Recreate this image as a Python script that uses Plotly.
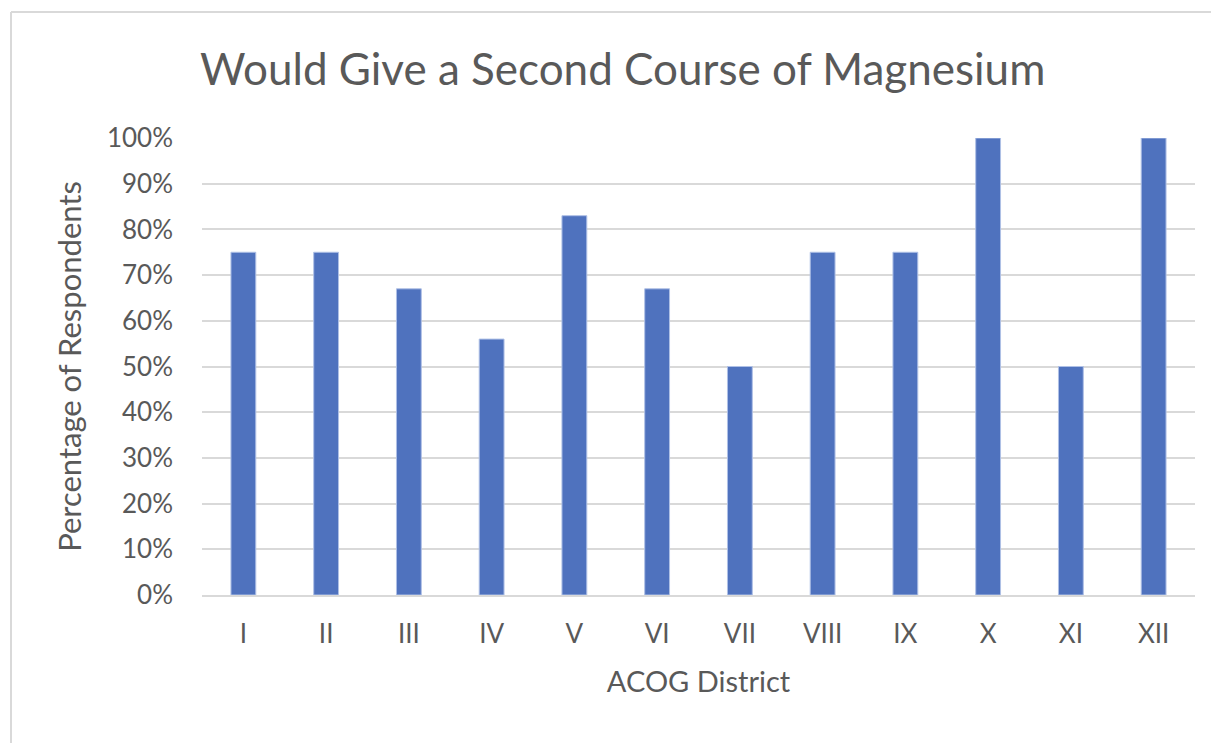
import plotly.graph_objects as go

districts = ["I", "II", "III", "IV", "V", "VI", "VII", "VIII", "IX", "X", "XI", "XII"]
pct_would_give = [0.75, 0.75, 0.67, 0.56, 0.83, 0.67, 0.50, 0.75, 0.75, 1.00, 0.50, 1.00]
y_tick_vals = [0, 0.1, 0.2, 0.3, 0.4, 0.5, 0.6, 0.7, 0.8, 0.9, 1.0]
y_tick_text = ["0%", "10%", "20%", "30%", "40%", "50%", "60%", "70%", "80%", "90%", "100%"]

# page has an 8px body margin; work in reference-pixel coordinates and shift
OFF = 8
W, H = 1219 - OFF, 743 - OFF
L, T = 202 - OFF, 138 - OFF
R = W - (1195 - OFF)
B = H - (595 - OFF)
pw, ph = W - L - R, H - T - B

def px(x):
    return (x - OFF - L) / pw

def py(y):
    return (H - B - (y - OFF)) / ph

FONT = "Lato"
TXT = "#595959"

fig = go.Figure(go.Bar(
    x=districts, y=pct_would_give,
    marker=dict(color="#4F72BE", line=dict(color="#AFC0E6", width=1)),
    width=0.30,
))

fig.update_layout(
    width=W, height=H,
    margin=dict(l=L, r=R, t=T, b=B),
    paper_bgcolor="white", plot_bgcolor="white",
    showlegend=False,
    font=dict(family=FONT, color=TXT),
)
fig.update_yaxes(
    range=[0, 1], tickvals=y_tick_vals, ticktext=y_tick_text,
    showgrid=True, gridcolor="#D9D9D9", gridwidth=1.5,
    zeroline=False, showline=False,
    tickfont=dict(size=26, color=TXT, family=FONT),
    ticklabelstandoff=28,
    title=dict(text="Percentage of Respondents", font=dict(size=31, color=TXT, family=FONT), standoff=16),
)
fig.update_xaxes(
    showline=True, linecolor="#D9D9D9", linewidth=1.5,
    tickfont=dict(size=26, color=TXT, family=FONT),
    ticklabelstandoff=15,
    title=dict(text="ACOG District", font=dict(size=29, color=TXT, family=FONT), standoff=24),
)

fig.add_annotation(
    text="Would Give a Second Course of Magnesium",
    xref="paper", yref="paper", x=px(622), y=py(68),
    xanchor="center", yanchor="middle", showarrow=False,
    font=dict(size=44, color=TXT, family=FONT),
)

frame = dict(type="line", xref="paper", yref="paper", line=dict(color="#D9D9D9", width=2), layer="below")
fig.add_shape(**frame, x0=px(11), x1=px(1240), y0=py(12), y1=py(12))
fig.add_shape(**frame, x0=px(11), x1=px(11), y0=py(12), y1=py(780))

fig.write_html("out.html")
